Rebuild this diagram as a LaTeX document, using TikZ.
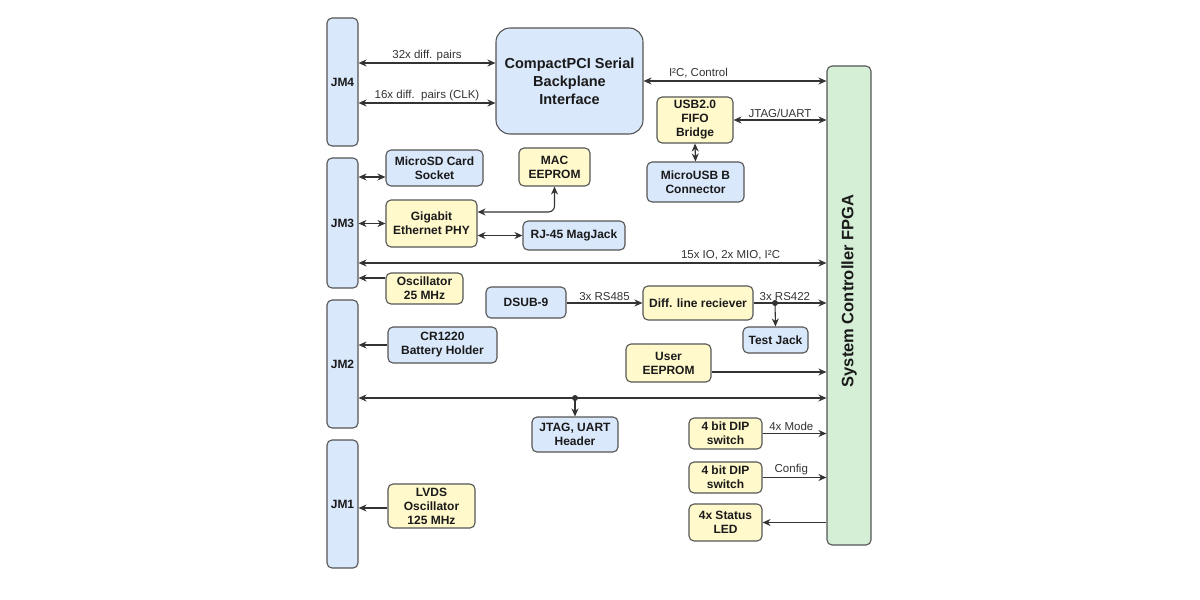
\documentclass[tikz,border=0pt]{standalone}
\usepackage{fontspec}
\setmainfont{Liberation Sans}
\usetikzlibrary{arrows.meta}
\definecolor{bfill}{HTML}{DAE8FC}
\definecolor{yfill}{HTML}{FFF9CC}
\definecolor{gfill}{HTML}{D5EFD6}
\definecolor{edge}{HTML}{555555}
\definecolor{wire}{HTML}{333333}
\definecolor{txt}{HTML}{1A1A1A}
\tikzset{
  box/.style={draw=edge, line width=1.1pt, rounded corners=5pt, inner sep=1pt,
    align=center, text=txt, font=\bfseries\fontsize{12}{14}\selectfont},
  bluebox/.style={box, fill=bfill},
  yelbox/.style={box, fill=yfill},
  wirestyle/.style={draw=wire, line width=1.1pt, arrows={-Stealth[length=8pt,width=7pt]}},
  biwire/.style={wirestyle, arrows={Stealth[length=8pt,width=7pt]-Stealth[length=8pt,width=7pt]}},
  lbl/.style={font=\fontsize{11.5}{13}\selectfont, text=wire, inner sep=1pt},
  junction/.style={circle, fill=wire, inner sep=0pt, minimum size=6pt}
}
\begin{document}
\begin{tikzpicture}[x=1pt,y=-1pt]
\useasboundingbox (0,0) rectangle (1200,600);
% connector boxes
\node[bluebox, minimum width=31, minimum height=128] (jm4) at (342.5,82) {JM4};
\node[bluebox, minimum width=31, minimum height=130] (jm3) at (342.5,223) {JM3};
\node[bluebox, minimum width=31, minimum height=128] (jm2) at (342.5,364) {JM2};
\node[bluebox, minimum width=31, minimum height=128] (jm1) at (342.5,504) {JM1};
% backplane
\node[bluebox, rounded corners=14pt, minimum width=147, minimum height=106,
  font=\bfseries\fontsize{14.5}{18}\selectfont] (cp) at (569.5,81) {CompactPCI Serial\\Backplane\\Interface};
% FPGA
\node[box, fill=gfill, minimum width=44, minimum height=479] (fpga) at (849,305.5) {};
\node[rotate=90, text=txt, font=\bfseries\fontsize{16.5}{18}\selectfont] (fpgalabel) at (849,291) {System Controller FPGA};
% right column
\node[yelbox, minimum width=76, minimum height=46] (usb) at (695,120) {USB2.0\\FIFO\\Bridge};
\node[bluebox, minimum width=97, minimum height=40] (musb) at (695.5,182) {MicroUSB B\\Connector};
% JM3 peripherals
\node[bluebox, minimum width=97, minimum height=36] (sd) at (434.5,168) {MicroSD Card\\Socket};
\node[yelbox, minimum width=71, minimum height=38] (mac) at (554.5,167) {MAC\\EEPROM};
\node[yelbox, minimum width=91, minimum height=47] (phy) at (431.5,223.5) {Gigabit\\Ethernet PHY};
\node[bluebox, minimum width=102, minimum height=29] (rj) at (574,235.5) {RJ-45 MagJack};
\node[yelbox, minimum width=77, minimum height=31] (osc) at (424.5,288.5) {Oscillator\\25 MHz};
% RS485 chain
\node[bluebox, minimum width=80, minimum height=31] (dsub) at (526,302.5) {DSUB-9};
\node[yelbox, minimum width=110, minimum height=34] (diff) at (698,303) {Diff. line reciever};
\node[bluebox, minimum width=65, minimum height=26] (tj) at (775.5,340) {Test Jack};
\node[yelbox, minimum width=85, minimum height=38] (ueep) at (668.5,363) {User\\EEPROM};
% JM2 peripherals
\node[bluebox, minimum width=109, minimum height=36] (bat) at (442.5,345) {CR1220\\Battery Holder};
\node[bluebox, minimum width=86, minimum height=35] (jtag) at (575,434.5) {JTAG, UART\\Header};
% DIP / LED
\node[yelbox, minimum width=73, minimum height=31] (dip1) at (725.5,433.5) {4 bit DIP\\switch};
\node[yelbox, minimum width=73, minimum height=31] (dip2) at (725.5,477.5) {4 bit DIP\\switch};
\node[yelbox, minimum width=73, minimum height=37] (led) at (725.5,522.5) {4x Status\\LED};
% JM1 peripheral
\node[yelbox, minimum width=87, minimum height=44] (lvds) at (431.5,506) {LVDS\\Oscillator\\125 MHz};
% junctions
\node[junction] (j1) at (775,303) {};
\node[junction] (j2) at (575,398) {};

% connectors
\draw[biwire] (jm4.east |- 0,63) -- node[lbl, above=1pt] {32x diff. pairs} (cp.west |- 0,63);
\draw[biwire] (jm4.east |- 0,103) -- node[lbl, above=1pt] {16x diff.\ \ pairs (CLK)} (cp.west |- 0,103);
\draw[biwire] (cp.east |- 0,81) -- (fpga.west |- 0,81) node[lbl, pos=0.3, above=1pt] {I²C, Control};
\draw[biwire] (usb.east) -- (fpga.west |- usb.east) node[lbl, pos=0.5, above=1pt] {JTAG/UART};
\draw[biwire] (usb.south) -- (musb.north);
\draw[biwire] (jm3.east |- 0,177) -- (sd.west |- 0,177);
\draw[biwire] (jm3.east |- phy.west) -- (phy.west);
\draw[biwire, rounded corners=6pt] (phy.east |- 0,212) -| (mac.south);
\draw[biwire] (phy.east |- rj.west) -- (rj.west);
\draw[biwire] (jm3.east |- 0,263) -- (fpga.west |- 0,263) node[lbl, pos=0.795, above=1pt] {15x IO, 2x MIO, I²C};
\draw[wirestyle] (osc.west |- 0,278) -- (jm3.east |- 0,278);
\draw[wirestyle] (dsub.east |- 0,303) -- node[lbl, above=1pt] {3x RS485} (diff.west |- 0,303);
\draw[wirestyle] (diff.east |- 0,303) -- (fpga.west |- 0,303) node[lbl, pos=0.43, above=1pt] {3x RS422};
\draw[wirestyle] (j1.center) -- (tj.north);
\draw[wirestyle] (ueep.east |- 0,372) -- (fpga.west |- 0,372);
\draw[wirestyle] (bat.west) -- (jm2.east |- bat.west);
\draw[biwire] (jm2.east |- 0,398) -- (fpga.west |- 0,398);
\draw[wirestyle] (j2.center) -- (jtag.north);
\draw[wirestyle] (dip1.east) -- (fpga.west |- dip1.east) node[lbl, pos=0.45, above=1pt] {4x Mode};
\draw[wirestyle] (dip2.east) -- (fpga.west |- dip2.east) node[lbl, pos=0.45, above=1pt] {Config};
\draw[wirestyle] (fpga.west |- led.east) -- (led.east);
\draw[wirestyle] (lvds.west |- 0,508) -- (jm1.east |- 0,508);
\end{tikzpicture}
\end{document}
